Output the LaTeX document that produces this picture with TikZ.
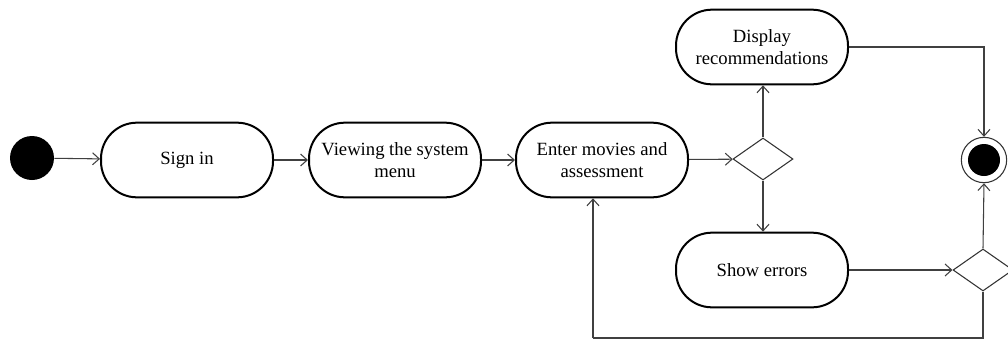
\documentclass[tikz,border=0pt]{standalone}
\usepackage{fontspec}
\setmainfont{Liberation Serif}
\usetikzlibrary{shapes.geometric,arrows.meta}
\begin{document}
\begin{tikzpicture}[x=0.75pt,y=-0.75pt,
  action/.style={draw=black, line width=1.5pt, rounded corners=27pt,
    minimum width=129pt, minimum height=56pt, align=center, inner sep=2pt,
    font=\fontsize{14}{16.5}\selectfont},
  decision/.style={draw=black!80, diamond, line width=0.8pt, inner sep=0pt,
    minimum width=45pt, minimum height=31.5pt},
  flow/.style={draw=black!75, line width=0.8pt,
    -{Straight Barb[length=5pt,width=9pt]}},
  plain/.style={draw=black!75, line width=0.8pt}]
\useasboundingbox (0,0) rectangle (1008,340);

% initial and final states
\node (start) [circle, fill=black, minimum size=33pt, inner sep=0pt] at (32,158) {};
\node (final) [circle, draw=black!80, line width=0.8pt, minimum size=34pt, inner sep=0pt] at (984,160) {};
\fill[black] (final.center) circle (12pt);

% actions
\node (signin) [action] at (187,160) {Sign in};
\node (menu)   [action] at (395,160) {Viewing the system\\menu};
\node (enter)  [action] at (602,160) {Enter movies and\\assessment};
\node (recom)  [action] at (762,47)  {Display\\recommendations};
\node (errors) [action] at (762,270) {Show errors};

% decisions
\node (d1) [decision] at (763,159) {};
\node (d2) [decision] at (983,270) {};

% main flow
\draw[flow] (start) -- (signin);
\draw[flow] (signin) -- (menu);
\draw[flow] (menu) -- (enter);
\draw[flow] (enter) -- (d1);
\draw[flow] (d1.north) -- (d1.north |- recom.south);
\draw[flow] (d1.south) -- (d1.south |- errors.north);
\draw[flow] (recom.east) -| (final.north);
\draw[flow] (errors.east) -- (d2.west);
\draw[flow] (d2.north) -- (final.south);

% loop back to data entry
\coordinate (lpR) at (983,338);
\coordinate (lpL) at (593,338);
\draw[plain] (d2.south) -- (lpR) -- (lpL);
\draw[flow] (lpL) -- (lpL |- enter.south);
\end{tikzpicture}
\end{document}
